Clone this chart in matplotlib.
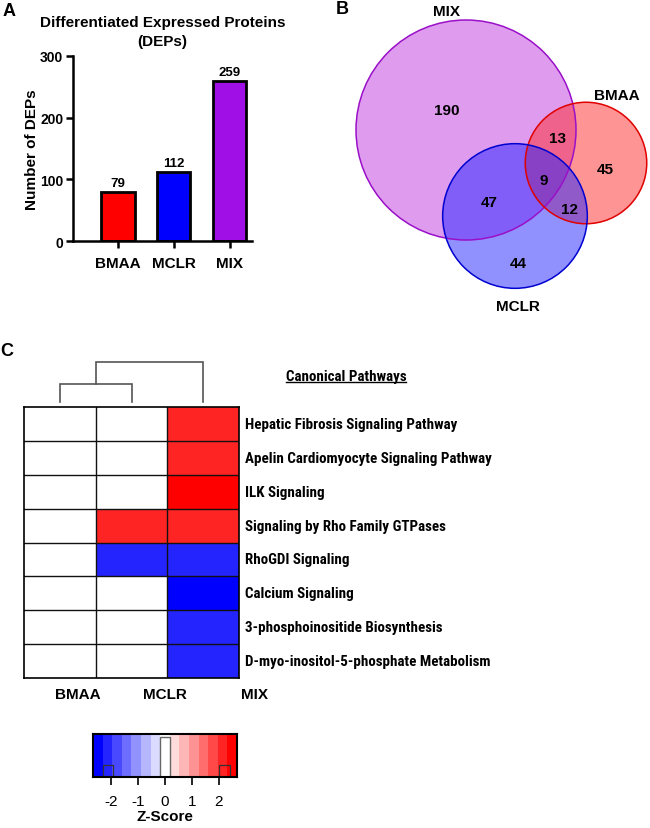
import numpy as np
import matplotlib
matplotlib.use("Agg")
import matplotlib.pyplot as plt
from matplotlib.colors import ListedColormap, BoundaryNorm
from matplotlib.patches import Circle, Rectangle
from matplotlib.lines import Line2D
from matplotlib import font_manager as fm

# ---------------- data ----------------
groups = ["BMAA", "MCLR", "MIX"]
dep_counts = [79, 112, 259]
bar_colors = ["#ff0000", "#0000ff", "#a010e6"]
y_ticks = [0, 100, 200, 300]

venn_labels = ["MIX", "BMAA", "MCLR"]
venn_totals = [259, 79, 112]
venn_regions = {"MIX": 190, "MIX&BMAA": 13, "BMAA": 45, "ALL": 9,
                "MIX&MCLR": 47, "BMAA&MCLR": 12, "MCLR": 44}

pathways = ["Hepatic Fibrosis Signaling Pathway",
            "Apelin Cardiomyocyte Signaling Pathway",
            "ILK Signaling",
            "Signaling by Rho Family GTPases",
            "RhoGDI Signaling",
            "Calcium Signaling",
            "3-phosphoinositide Biosynthesis",
            "D-myo-inositol-5-phosphate Metabolism"]
z_bmaa = [np.nan] * 8
z_mclr = [np.nan, np.nan, np.nan, 2.0, -2.0, np.nan, np.nan, np.nan]
z_mix = [2.2, 2.1, 2.5, 2.1, -2.1, -2.5, -2.2, -2.1]
link_heights = [1.0, 2.2]   # (BMAA,MCLR) then (+MIX)
cbar_ticks = [-2, -1, 0, 1, 2]

# ---------------- fonts ----------------
plt.rcParams['font.family'] = ['Liberation Sans', 'DejaVu Sans']
plt.rcParams['axes.unicode_minus'] = False
names = {f.name for f in fm.fontManager.ttflist}
narrow = None
for cand in ['Liberation Sans Narrow', 'Arial Narrow', 'Roboto Condensed', 'Open Sans Condensed']:
    if cand in names:
        narrow = cand
        break
nfam = [narrow, 'Liberation Sans', 'DejaVu Sans'] if narrow else ['Liberation Sans', 'DejaVu Sans']

W, H = 650, 829
fig = plt.figure(figsize=(W / 100, H / 100), dpi=100)
renderer = fig.canvas.get_renderer()


def box(x0, y0, x1, y1):
    return [x0 / W, 1 - y1 / H, (x1 - x0) / W, (y1 - y0) / H]


def fit_size(text, target_px, base=11, weight='bold', family=None):
    t = fig.text(0, 0, text, fontsize=base, fontweight=weight, family=family)
    w = t.get_window_extent(renderer=renderer).width
    t.remove()
    return base * target_px / w


# ---------------- panel labels ----------------
fig.text(9 / W, 1 - 12 / H, "A", fontsize=13, fontweight='bold', ha='center', va='center')
fig.text(342 / W, 1 - 9 / H, "B", fontsize=13, fontweight='bold', ha='center', va='center')
fig.text(7 / W, 1 - 351 / H, "C", fontsize=13, fontweight='bold', ha='center', va='center')

# ---------------- A: bar chart ----------------
axA = fig.add_axes(box(73, 57, 252, 242))
x = np.arange(len(groups))
axA.bar(x, dep_counts, width=0.6, color=bar_colors, edgecolor='black', linewidth=2)
for xi, v in zip(x, dep_counts):
    axA.text(xi, v + 5, str(v), ha='center', va='bottom', fontsize=9.5, fontweight='bold')
axA.set_xlim(-0.8, 2.4)
axA.set_ylim(0, 300)
axA.set_yticks(y_ticks)
axA.set_xticks(x)
axA.set_xticklabels(groups, fontsize=11, fontweight='bold')
for lab in axA.get_yticklabels():
    lab.set_fontsize(10)
    lab.set_fontweight('bold')
axA.tick_params(axis='both', width=1.8, length=5, pad=2)
axA.tick_params(axis='x', pad=6)
for s in ['top', 'right']:
    axA.spines[s].set_visible(False)
for s in ['left', 'bottom']:
    axA.spines[s].set_linewidth(1.8)
axA.set_ylabel("Number of DEPs", fontsize=11, fontweight='bold', labelpad=1)
axA.set_title("Differentiated Expressed Proteins\n(DEPs)", fontsize=11, fontweight='bold',
              pad=8, linespacing=1.4)

# ---------------- B: Venn ----------------
axB = fig.add_axes(box(330, 0, 650, 330))
axB.set_xlim(330, 650)
axB.set_ylim(330, 0)
axB.axis('off')
r_mix = 110.0
radii = [r_mix * np.sqrt(t / venn_totals[0]) for t in venn_totals]
centers = [(466, 131), (586, 164), (515, 217)]
faces = ["#c03be0", "#ff2a2a", "#2222ff"]
edges = ["#9a10c8", "#e00000", "#0000d0"]
alphas = [0.5, 0.5, 0.5]
for c, r, fc, a in zip(centers, radii, faces, alphas):
    axB.add_patch(Circle(c, r, facecolor=fc, alpha=a, edgecolor='none'))
for c, r, ec in zip(centers, radii, edges):
    axB.add_patch(Circle(c, r, facecolor='none', edgecolor=ec, linewidth=1.1))
label_pos = {"MIX": (447, 12), "BMAA": (617, 96), "MCLR": (518, 307)}
for nm in venn_labels:
    axB.text(*label_pos[nm], nm, ha='center', va='center', fontsize=11, fontweight='bold')
region_pos = {"MIX": (447, 111), "MIX&BMAA": (557, 139), "BMAA": (605, 170), "ALL": (544, 181),
              "MIX&MCLR": (489, 203), "BMAA&MCLR": (569, 210), "MCLR": (518, 264)}
for k, v in venn_regions.items():
    axB.text(*region_pos[k], str(v), ha='center', va='center', fontsize=11, fontweight='bold')

# ---------------- C: heatmap ----------------
blues = [(1 - t, 1 - t, 1.0) for t in np.arange(7, 0, -1) / 7]
reds = [(1.0, 1 - t, 1 - t) for t in np.arange(1, 8) / 7]
cols15 = blues + [(1, 1, 1)] + reds
cmap = ListedColormap(cols15)
bounds = np.linspace(-2.67, 2.67, 16)
norm = BoundaryNorm(bounds, cmap.N, clip=True)

Z = np.ma.masked_invalid(np.array([z_bmaa, z_mclr, z_mix]).T)
axC = fig.add_axes(box(24, 408, 239, 679))
axC.pcolormesh(np.arange(4), np.arange(9), Z, cmap=cmap, norm=norm)
axC.set_xlim(0, 3)
axC.set_ylim(8, 0)
for i in range(1, 3):
    axC.axvline(i, color='#111111', linewidth=1.0)
for j in range(1, 8):
    axC.axhline(j, color='#111111', linewidth=1.0)
for s in axC.spines.values():
    s.set_linewidth(1.2)
axC.set_xticks([])
axC.set_yticks([])
path_fs = fit_size(pathways[1], 244, family=nfam)
for j, p in enumerate(pathways):
    axC.text(3.085, j + 0.5, p, ha='left', va='center', fontsize=path_fs, fontweight='bold',
             family=nfam)
# column labels (placed below, as in the source figure)
col_label_x = [77.5, 165, 254.5]
for gx, g in zip(col_label_x, groups):
    fig.text(gx / W, 1 - 695 / H, g, ha='center', va='center', fontsize=11, fontweight='bold')

# dendrogram
axD = fig.add_axes(box(24, 363, 239, 403))
axD.set_xlim(0, 3)
axD.set_ylim(0, link_heights[1])
axD.axis('off')
h1, h2 = link_heights
dc = '#555555'
axD.plot([0.5, 0.5, 1.5, 1.5], [0, h1, h1, 0], color=dc, lw=1.2, clip_on=False, solid_joinstyle='miter')
axD.plot([1.0, 1.0, 2.5, 2.5], [h1, h2, h2, 0], color=dc, lw=1.2, clip_on=False, solid_joinstyle='miter')

# Canonical Pathways heading (underlined)
head_fs = fit_size("Canonical Pathways", 120, family=nfam)
t = fig.text(346 / W, 1 - 377 / H, "Canonical Pathways", ha='center', va='center', fontsize=head_fs,
             fontweight='bold', family=nfam)
bb = t.get_window_extent(renderer=renderer)
bbf = bb.transformed(fig.transFigure.inverted())
fig.add_artist(Line2D([bbf.x0, bbf.x1], [bbf.y0 + 1.0 / H, bbf.y0 + 1.0 / H],
                      transform=fig.transFigure, color='black', lw=1.0))

# ---------------- colour scale ----------------
axK = fig.add_axes(box(93, 735, 237, 778))
axK.pcolormesh(bounds, [0, 1], ((bounds[:-1] + bounds[1:]) / 2)[None, :], cmap=cmap, norm=norm)
axK.set_xlim(bounds[0], bounds[-1])
axK.set_ylim(0, 1)
axK.set_yticks([])
axK.set_xticks(cbar_ticks)
axK.set_xticklabels([str(v) for v in cbar_ticks], fontsize=11)
axK.tick_params(axis='x', length=6, width=1.2, pad=6)
for s in axK.spines.values():
    s.set_linewidth(1.5)
# outline of the zero segment and small marker boxes
w = bounds[1] - bounds[0]
axK.add_patch(Rectangle((bounds[7] + 0.01, 0.0), w - 0.02, 0.93, facecolor='none', edgecolor='#666666', lw=1.0))
axK.add_patch(Rectangle((bounds[1], 0.0), w * 1.1, 0.27, facecolor='none', edgecolor='#333333', lw=0.9))
axK.add_patch(Rectangle((bounds[13] + 0.05, 0.0), w * 1.1, 0.27, facecolor='none', edgecolor='#333333', lw=0.9))
axK.set_xlabel("Z-Score", fontsize=11, fontweight='bold', labelpad=1)

fig.savefig("out.png", dpi=100)
